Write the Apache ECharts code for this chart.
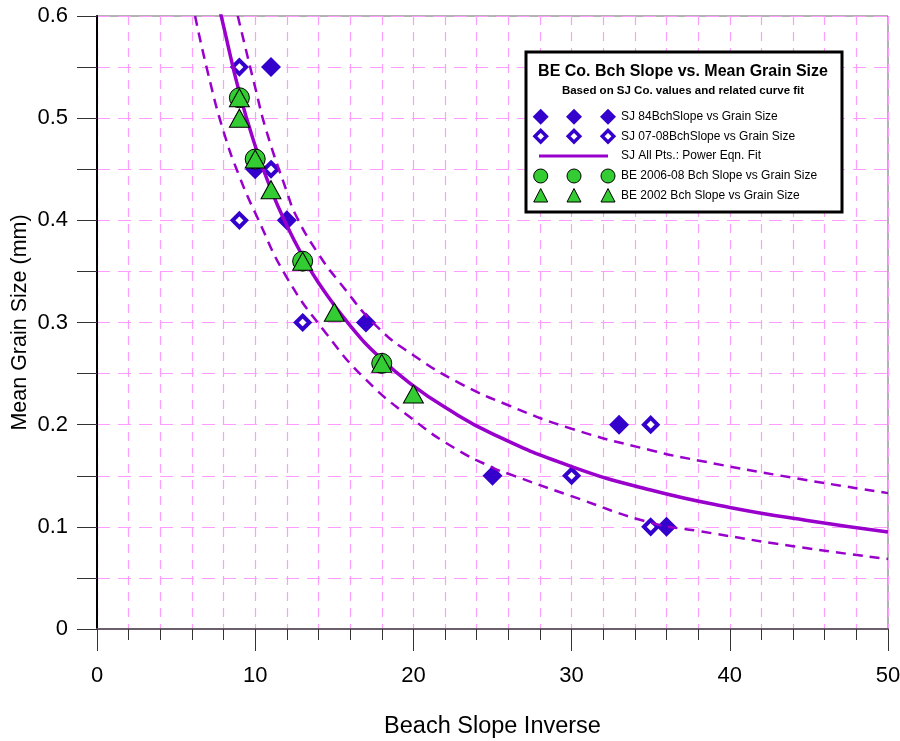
<!DOCTYPE html>
<html>
<head>
<meta charset="utf-8">
<script src="https://cdn.jsdelivr.net/npm/echarts@6/dist/echarts.min.js"></script>
<style>html,body{margin:0;padding:0;background:#fff;}#c{width:900px;height:741px;}</style>
</head>
<body>
<div id="c"></div>
<script>
// ---- data ----
const xTicks = [0, 10, 20, 30, 40, 50];
const yTicks = [0, 0.1, 0.2, 0.3, 0.4, 0.5, 0.6];

const sj84X = [11, 10, 12, 17, 33, 25, 36];
const sj84Y = [0.55, 0.45, 0.40, 0.30, 0.20, 0.15, 0.10];

const sj0708X = [9, 11, 9, 13, 35, 30, 35];
const sj0708Y = [0.55, 0.45, 0.40, 0.30, 0.20, 0.15, 0.10];

const be0608X = [9, 10, 13, 18];
const be0608Y = [0.52, 0.46, 0.36, 0.26];

const be2002X = [9, 9, 10, 11, 13, 15, 18, 20];
const be2002Y = [0.52, 0.50, 0.46, 0.43, 0.36, 0.31, 0.26, 0.23];

const fitX = [7.7, 8, 9, 10, 11, 12, 13, 14, 16, 18, 20, 22, 25, 30, 35, 40, 45, 50];
const fitY = [0.61, 0.59, 0.525, 0.473, 0.43, 0.395, 0.365, 0.339, 0.297, 0.264, 0.238, 0.217, 0.191, 0.159, 0.136, 0.119, 0.106, 0.095];

const upX = [8.9, 10, 10.7, 12, 12.6, 14, 15.4, 17.7, 20, 23, 26, 30, 35, 38, 44, 50];
const upY = [0.60, 0.53, 0.488, 0.428, 0.404, 0.367, 0.338, 0.296, 0.268, 0.240, 0.219, 0.196, 0.175, 0.165, 0.148, 0.133];

const loX = [6.2, 7, 8, 9, 10.1, 12, 14.5, 17, 19.9, 22.6, 25, 26, 30, 35, 38, 44, 50];
const loY = [0.60, 0.545, 0.487, 0.443, 0.404, 0.344, 0.289, 0.244, 0.206, 0.177, 0.158, 0.152, 0.13, 0.104, 0.096, 0.081, 0.0685];

const legendTitle = 'BE Co. Bch Slope vs. Mean Grain Size';
const legendSub = 'Based on SJ Co. values and related curve fit';
const names = ['SJ 84BchSlope vs Grain Size', 'SJ 07-08BchSlope vs Grain Size', 'SJ All Pts.: Power Eqn. Fit', 'BE 2006-08 Bch Slope vs Grain Size', 'BE 2002 Bch Slope vs Grain Size'];

// ---- helpers ----
const zip = (xs, ys) => xs.map((x, i) => [x, ys[i]]);
const BLUE = '#3300cc', PURPLE = '#9900cc', GREEN = '#33cc33', PINK = '#ff9cff';
const FONT = '"Liberation Sans", Arial, sans-serif';

// legend graphics (decoration only)
const lgLeft = 526, lgTop = 52, lgW = 316, lgH = 160;
const rowsY = [116.7, 136.3, 156, 176, 196];
const mx = [540.7, 574, 608];
const textX = 621;
const gfx = [];
gfx.push({type: 'rect', shape: {x: lgLeft, y: lgTop, width: lgW, height: lgH}, style: {fill: '#fff', stroke: '#000', lineWidth: 3}, z: 100});
gfx.push({type: 'text', x: 683, y: 72, style: {text: legendTitle, font: 'bold 16px ' + FONT, fill: '#000', align: 'center', verticalAlign: 'middle'}, z: 101});
gfx.push({type: 'text', x: 683, y: 91, style: {text: legendSub, font: 'bold 11.5px ' + FONT, fill: '#000', align: 'center', verticalAlign: 'middle'}, z: 101});
names.forEach((n, i) => {
  gfx.push({type: 'text', x: textX, y: rowsY[i], style: {text: n, font: '12px ' + FONT, fill: '#000', align: 'left', verticalAlign: 'middle'}, z: 101});
});
mx.forEach(x => {
  let y = rowsY[0];
  gfx.push({type: 'polygon', shape: {points: [[x, y - 8], [x + 8, y], [x, y + 8], [x - 8, y]]}, style: {fill: BLUE}, z: 101});
  y = rowsY[1];
  gfx.push({type: 'polygon', shape: {points: [[x, y - 5.8], [x + 5.8, y], [x, y + 5.8], [x - 5.8, y]]}, style: {fill: '#fff', stroke: BLUE, lineWidth: 3.4}, z: 101});
  y = rowsY[3];
  gfx.push({type: 'circle', shape: {cx: x, cy: y, r: 7}, style: {fill: GREEN, stroke: '#000', lineWidth: 1}, z: 101});
  y = rowsY[4];
  gfx.push({type: 'polygon', shape: {points: [[x, y - 7.5], [x + 7, y + 6], [x - 7, y + 6]]}, style: {fill: GREEN, stroke: '#000', lineWidth: 1}, z: 101});
});
gfx.push({type: 'line', shape: {x1: 539, y1: rowsY[2], x2: 608, y2: rowsY[2]}, style: {stroke: PURPLE, lineWidth: 3}, z: 101});

const chart = echarts.init(document.getElementById('c'), null, {renderer: 'canvas'});
chart.setOption({
  animation: false,
  backgroundColor: '#fff',
  textStyle: {fontFamily: FONT},
  grid: {left: 97, right: 12, top: 16, bottom: 112, show: true, borderColor: '#666', borderWidth: 1, backgroundColor: 'transparent',
    containLabel: false, outerBoundsMode: 'none'},
  xAxis: [
    {
      type: 'value', min: 0, max: 50, interval: 10, position: 'bottom',
      name: 'Beach Slope Inverse', nameLocation: 'middle', nameGap: 86, nameMoveOverlap: false,
      nameTextStyle: {fontSize: 23.5, color: '#000', fontFamily: FONT},
      axisLine: {show: true, lineStyle: {color: '#6b5f6b', width: 2}},
      axisTick: {show: true, length: 22, lineStyle: {color: '#333', width: 1}},
      axisLabel: {show: true, margin: 36, fontSize: 22, color: '#000', fontFamily: FONT,
        formatter: v => xTicks.indexOf(Math.round(v)) >= 0 ? String(Math.round(v)) : ''},
      splitLine: {show: false}
    },
    {
      type: 'value', min: 0, max: 50, interval: 2, position: 'bottom',
      axisLine: {show: false},
      axisTick: {show: true, length: 11, lineStyle: {color: '#333', width: 1}},
      axisLabel: {show: false},
      splitLine: {show: true, lineStyle: {color: PINK, width: 1.2, type: [9, 7]}}
    }
  ],
  yAxis: [
    {
      type: 'value', min: 0, max: 0.6, interval: 0.05,
      name: 'Mean Grain Size (mm)', nameLocation: 'middle', nameGap: 66, nameMoveOverlap: false,
      nameTextStyle: {fontSize: 21.5, color: '#000', fontFamily: FONT},
      axisLine: {show: true, lineStyle: {color: '#555', width: 1.5}},
      axisTick: {show: true, length: 20, lineStyle: {color: '#333', width: 1}},
      axisLabel: {show: true, margin: 29, fontSize: 22, color: '#000', fontFamily: FONT,
        formatter: v => {
          const r = Math.round(v * 10) / 10;
          return yTicks.some(t => Math.abs(t - v) < 1e-6) ? String(r) : '';
        }},
      splitLine: {show: true, lineStyle: {color: PINK, width: 1.2, type: [13, 8]}}
    },
    {
      type: 'value', min: 0, max: 0.6, interval: 0.1, position: 'right',
      axisLine: {show: true, lineStyle: {color: '#000', width: 2}},
      axisTick: {show: false}, axisLabel: {show: false}, splitLine: {show: false}
    }
  ],
  series: [
    {name: names[0], type: 'scatter', data: zip(sj84X, sj84Y), symbol: 'diamond', symbolSize: 20,
      itemStyle: {color: BLUE, opacity: 1}, z: 3},
    {name: names[1], type: 'scatter', data: zip(sj0708X, sj0708Y), symbol: 'diamond', symbolSize: 13.5,
      itemStyle: {color: '#fff', borderColor: BLUE, borderWidth: 4, opacity: 1}, z: 4},
    {name: 'upper', type: 'line', data: zip(upX, upY), showSymbol: false, symbol: 'none', smooth: 0.5,
      lineStyle: {color: PURPLE, width: 2.5, type: [10, 7]}, z: 5, clip: true},
    {name: 'lower', type: 'line', data: zip(loX, loY), showSymbol: false, symbol: 'none', smooth: 0.5,
      lineStyle: {color: PURPLE, width: 2.5, type: [10, 7]}, z: 5, clip: true},
    {name: names[2], type: 'line', data: zip(fitX, fitY), showSymbol: false, symbol: 'none', smooth: 0.5,
      lineStyle: {color: PURPLE, width: 3.5}, z: 6, clip: true},
    {name: names[3], type: 'scatter', data: zip(be0608X, be0608Y), symbol: 'circle', symbolSize: 20,
      itemStyle: {color: GREEN, borderColor: '#000', borderWidth: 1, opacity: 1}, z: 7},
    {name: names[4], type: 'scatter', data: zip(be2002X, be2002Y), symbol: 'triangle', symbolSize: [20, 18],
      itemStyle: {color: GREEN, borderColor: '#000', borderWidth: 1, opacity: 1}, z: 8}
  ],
  graphic: gfx
});
</script>
</body>
</html>
